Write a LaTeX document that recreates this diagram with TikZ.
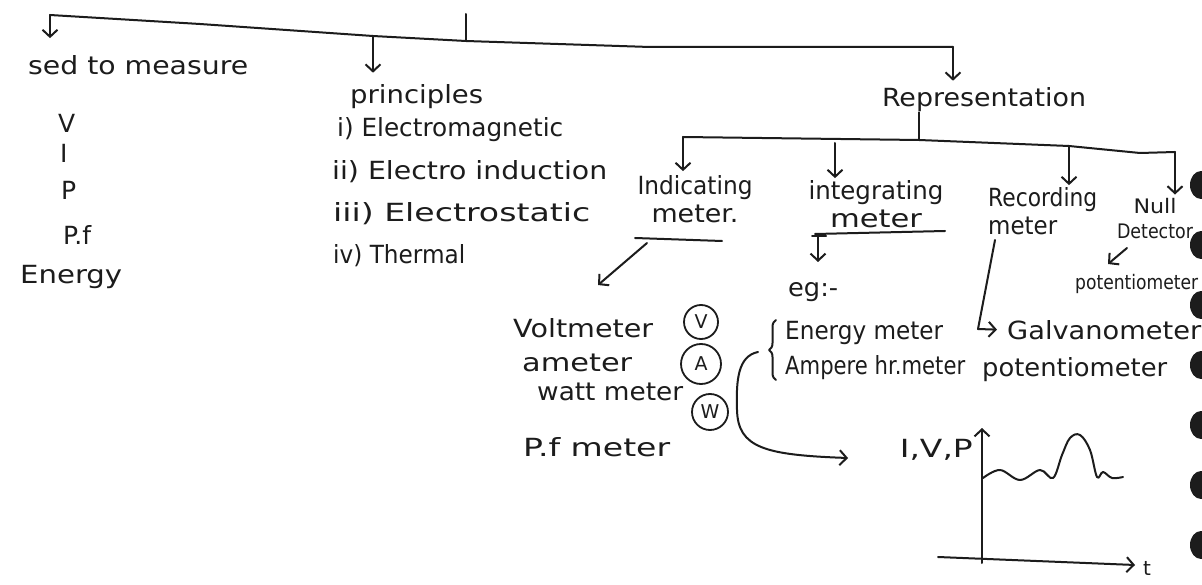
\documentclass[tikz,border=0pt]{standalone}
\usepackage{fontspec}
\setmainfont{DejaVu Sans}
\usepackage{graphicx}
\usetikzlibrary{arrows.meta,decorations.pathreplacing}
\definecolor{inkc}{HTML}{1C1C1C}
\newcommand\fw[2]{\resizebox{#1pt}{\height}{#2}}
\newcommand\hsz{\fontsize{25}{28}\selectfont}
\newcommand\ssz{\fontsize{20}{25}\selectfont}
\begin{document}
\begin{tikzpicture}[x=1pt,y=-1pt,
  ink/.style={draw=inkc, line width=2pt, line cap=round, line join=round},
  arr/.style={ink, -{Straight Barb[length=7pt,width=15pt,line width=2pt]}},
  hw/.style={inner sep=0pt, font=\hsz, text=inkc},
  sw/.style={inner sep=0pt, font=\ssz, text=inkc},
  ring/.style={draw=inkc, line width=1.8pt, circle, inner sep=0pt, font=\fontsize{19}{19}\selectfont, text=inkc}]
\useasboundingbox[fill=white] (0,0) rectangle (1202,585);

% left column
\node[hw,anchor=west] (used) at (28,65) {\fw{220}{sed to measure}};
\node[hw,anchor=west] (qv) at (58,123) {V};
\node[hw,anchor=west] (qi) at (60,153) {I};
\node[hw,anchor=west] (qp) at (61,190) {P};
\node[hw,anchor=west] (qpf) at (63,235) {P.f};
\node[hw,anchor=west] (qe) at (20,277) {\fw{102}{Energy}};

% principles
\node[hw,anchor=west] (prin) at (350,97) {\fw{133}{principles}};
\node[hw,anchor=west] (pr1) at (337,130) {\fw{226}{i) Electromagnetic}};
\node[hw,anchor=west] (pr2) at (332,172) {\fw{275}{ii) Electro induction}};
\node[hw,anchor=west] (pr3) at (333,214) {\fw{257}{iii) Electrostatic}};
\node[hw,anchor=west] (pr4) at (333,256) {\fw{132}{iv) Thermal}};

% representation
\node[hw] (rep) at (984,100) {\fw{204}{Representation}};
\node[hw,align=center] (ind) at (695,199) {\fw{115}{Indicating}\\\fw{87}{meter.}};
\node[hw,align=center] (integ) at (876,204) {\fw{135}{integrating}\\\fw{92}{meter}};
\node[hw,align=left,anchor=west] (rec) at (988,211) {\fw{109}{Recording}\\\fw{69}{meter}};
\node[sw,align=center] (null) at (1155,219) {\fw{43}{Null}\\\fw{76}{Detector}};
\node[sw,anchor=west] (pot1) at (1075,284) {\fw{123}{potentiometer}};
\node[hw,anchor=west] (eg) at (788,292) {\fw{50}{eg:-}};
\node[hw,anchor=west] (em) at (785,333) {\fw{158}{Energy meter}};
\node[hw,anchor=west] (ahm) at (785,368) {\fw{180}{Ampere hr.meter}};
\node[hw,anchor=west] (galv) at (1007,330) {\fw{194}{Galvanometer}};
\node[hw,anchor=west] (pot2) at (982,370) {\fw{185}{potentiometer}};

% indicating meters
\node[hw,anchor=west] (volt) at (513,328) {\fw{140}{Voltmeter}};
\node[hw,anchor=west] (amm) at (522,363) {\fw{110}{ameter}};
\node[hw,anchor=west] (watt) at (537,392) {\fw{146}{watt meter}};
\node[hw,anchor=west] (pfm) at (523,447) {\fw{147}{P.f meter}};
\node[ring,minimum size=34pt] (cv) at (701,322) {V};
\node[ring,minimum size=40pt] (ca) at (701,364) {A};
\node[ring,minimum size=36pt] (cw) at (710,412) {W};

% top tree
\coordinate (t0) at (50,15);
\coordinate (tm) at (200,24);
\coordinate (t1) at (373,36);
\coordinate (root) at (466,41);
\coordinate (rootup) at (466,14);
\coordinate (t3) at (650,47);
\coordinate (t4) at (953,47);
\draw[ink] (t0) -- (tm) -- (t1) -- (root) -- (t3) -- (t4);
\draw[ink] (rootup) -- (root);
\draw[arr] (t0) -- (t0 |- used.north) [shorten >=17pt];
\draw[arr] (t1) -- (t1 |- prin.north) [shorten >=12pt];
\draw[arr] (t4) -- (t4 |- rep.north) [shorten >=7pt];

% second tree
\coordinate (rm) at (919,140);
\coordinate (r0) at (683,137);
\coordinate (r1) at (835,139);
\coordinate (r2) at (1069,146);
\coordinate (r3) at (1140,153);
\coordinate (r4) at (1175,152);
\draw[ink] (rm |- rep.south) -- (rm);
\draw[ink] (r0) -- (rm) -- (r2) -- (r3) -- (r4);
\draw[arr] (r0) -- (r0 |- ind.north) [shorten >=4pt];
\draw[arr] ([yshift=-4pt]r1) -- (r1 |- integ.north) [shorten >=2pt];
\draw[arr] (r2) -- (r2 |- rec.north) [shorten >=2pt];
\draw[arr] (r4) -- (r4 |- null.north) [shorten >=4pt];

% indicating branch
\coordinate (iu0) at (635,238);
\coordinate (iu1) at (722,241);
\coordinate (ia0) at (647,243);
\coordinate (ia1) at (598,285);
\draw[ink] (iu0) -- (iu1);
\draw[arr] (ia0) -- (ia1);

% integrating branch
\coordinate (gu0) at (815,234);
\coordinate (gu1) at (945,231);
\coordinate (ga0) at (818,236);
\coordinate (ga1) at (818,262);
\coordinate (gb0) at (812,236);
\coordinate (gb1) at (826,236);
\draw[ink] (gu0) -- (gu1);
\draw[ink] (gb0) -- (gb1);
\draw[arr] (ga0) -- (ga1);
\draw[ink, decorate, decoration={brace, amplitude=7pt}] (776,380) -- (776,320);
\coordinate (cs) at (758,352);
\coordinate (ce) at (848,458);
\draw[arr] (cs) .. controls (738,356) and (736,380) .. (737,410)
  .. controls (738,448) and (765,455) .. (ce);

% recording branch
\coordinate (g0) at (995,240);
\coordinate (g1) at (978,329);
\draw[arr] (g0) -- (g1) -- (galv.west) [shorten >=10pt];

% null branch
\coordinate (n0) at (1127,248);
\coordinate (n1) at (1108,264);
\draw[arr] (n0) -- (n1);

% graph
\coordinate (yb) at (982,563);
\coordinate (yt) at (982,428);
\coordinate (xl) at (938,557);
\coordinate (xr) at (1135,565);
\draw[arr] (yb) -- (yt);
\draw[arr] (xl) -- (xr);
\node[hw,anchor=east] (ivp) at (973,450) {\fw{73}{I,V,P}};
\node[sw] (tl) at (1147,568) {t};
\draw[ink] plot[smooth, tension=0.6] coordinates {(983,478) (1000,470) (1020,480) (1040,470) (1053,478) (1062,455) (1070,438) (1080,435) (1090,450) (1097,477) (1103,472) (1112,478) (1123,477)};

% binder holes at right edge
\begin{scope}
\clip (0,0) rectangle (1202,585);
\foreach \yy in {185,245,305,365,425,485,545}
  \fill[inkc] (1201,\yy) ellipse (11 and 14);
\end{scope}
\end{tikzpicture}
\end{document}
